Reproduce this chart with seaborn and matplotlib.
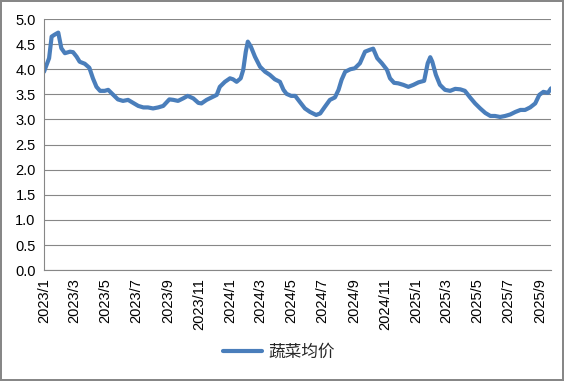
"""Vegetable average price line chart, 2023/1 - 2025/9."""

import matplotlib
matplotlib.use("Agg")
import matplotlib.pyplot as plt
import matplotlib.dates as mdates
from matplotlib.ticker import FuncFormatter, MultipleLocator
import pandas as pd
import seaborn as sns


# data
dates_2023 = [
    "2023-01-01", "2023-01-11", "2023-01-16", "2023-01-22", "2023-01-29",
    "2023-02-04", "2023-02-11", "2023-02-21", "2023-02-27", "2023-03-06",
    "2023-03-12", "2023-03-22", "2023-03-31", "2023-04-07", "2023-04-14",
    "2023-04-21", "2023-04-30", "2023-05-07", "2023-05-17", "2023-05-26",
    "2023-06-05", "2023-06-15", "2023-06-25", "2023-07-05", "2023-07-15",
    "2023-07-24", "2023-08-03", "2023-08-13", "2023-08-23", "2023-09-04",
    "2023-09-12", "2023-09-21", "2023-10-01", "2023-10-10", "2023-10-21",
    "2023-10-31", "2023-11-06", "2023-11-16", "2023-11-26", "2023-12-06",
    "2023-12-12", "2023-12-22",
]
prices_2023 = [
    3.95, 4.22, 4.65, 4.69, 4.73,
    4.42, 4.32, 4.35, 4.34, 4.25,
    4.15, 4.11, 4.03, 3.82, 3.65,
    3.57, 3.57, 3.59, 3.49, 3.40,
    3.37, 3.39, 3.33, 3.27, 3.24,
    3.24, 3.22, 3.24, 3.27, 3.40,
    3.39, 3.37, 3.42, 3.47, 3.42,
    3.33, 3.32, 3.39, 3.44, 3.49,
    3.65, 3.75,
]

dates_2024 = [
    "2024-01-01", "2024-01-07", "2024-01-14", "2024-01-22", "2024-01-27",
    "2024-02-01", "2024-02-05", "2024-02-11", "2024-02-19", "2024-02-29",
    "2024-03-10", "2024-03-19", "2024-03-29", "2024-04-08", "2024-04-15",
    "2024-04-21", "2024-04-30", "2024-05-08", "2024-05-17", "2024-05-27",
    "2024-06-06", "2024-06-18", "2024-06-26", "2024-07-05", "2024-07-15",
    "2024-07-25", "2024-08-01", "2024-08-07", "2024-08-14", "2024-08-24",
    "2024-09-02", "2024-09-12", "2024-09-22", "2024-10-02", "2024-10-08",
    "2024-10-16", "2024-10-25", "2024-11-04", "2024-11-10", "2024-11-18",
    "2024-11-26", "2024-12-06", "2024-12-16", "2024-12-26",
]
prices_2024 = [
    3.82, 3.80, 3.75, 3.82, 3.99,
    4.35, 4.55, 4.45, 4.25, 4.05,
    3.95, 3.89, 3.80, 3.75, 3.59,
    3.51, 3.47, 3.47, 3.35, 3.22,
    3.15, 3.09, 3.12, 3.25, 3.39,
    3.44, 3.59, 3.79, 3.95, 4.00,
    4.02, 4.12, 4.35, 4.39, 4.41,
    4.22, 4.12, 3.99, 3.82, 3.73,
    3.72, 3.69, 3.65, 3.69,
]

dates_2025 = [
    "2025-01-05", "2025-01-16", "2025-01-23", "2025-01-28", "2025-02-01",
    "2025-02-08", "2025-02-16", "2025-02-26", "2025-03-08", "2025-03-18",
    "2025-03-28", "2025-04-06", "2025-04-16", "2025-04-26", "2025-05-06",
    "2025-05-16", "2025-05-26", "2025-06-04", "2025-06-14", "2025-06-24",
    "2025-07-04", "2025-07-14", "2025-07-24", "2025-08-02", "2025-08-12",
    "2025-08-22", "2025-08-30", "2025-09-07", "2025-09-16", "2025-09-22",
]
prices_2025 = [
    3.74, 3.77, 4.12, 4.24, 4.15,
    3.89, 3.69, 3.59, 3.57, 3.61,
    3.60, 3.57, 3.44, 3.32, 3.22,
    3.13, 3.07, 3.07, 3.05, 3.07,
    3.10, 3.15, 3.19, 3.19, 3.24,
    3.32, 3.49, 3.55, 3.53, 3.62,
]

series_name = "蔬菜均价"

df = pd.DataFrame({
    "date": pd.to_datetime(dates_2023 + dates_2024 + dates_2025),
    series_name: prices_2023 + prices_2024 + prices_2025,
})

sns.set_style("white")
plt.rcParams["font.family"] = ["Liberation Sans", "Noto Sans CJK SC", "DejaVu Sans"]

fig = plt.figure(figsize=(5.64, 3.81), dpi=100)
ax = fig.add_axes([0.078, 0.291, 0.899, 0.659])

sns.lineplot(data=df, x="date", y=series_name, ax=ax, color="#4A7EBB",
             linewidth=3.0, label=series_name, legend=False,
             solid_joinstyle="round", solid_capstyle="round")

ax.set_ylim(0, 5)
ax.set_xlim(pd.Timestamp("2023-01-01"), pd.Timestamp("2025-09-22"))
ax.yaxis.set_major_locator(MultipleLocator(0.5))
ax.yaxis.set_major_formatter(FuncFormatter(lambda v, _: f"{v:.1f}"))

ax.xaxis.set_major_locator(mdates.MonthLocator(bymonth=[1, 3, 5, 7, 9, 11]))
ax.xaxis.set_major_formatter(FuncFormatter(
    lambda v, _: f"{mdates.num2date(v).year}/{mdates.num2date(v).month}"))
plt.setp(ax.get_xticklabels(), rotation=90)

ax.grid(axis="y", color="#878787", linewidth=0.8)
ax.set_axisbelow(True)
for side in ["top", "right"]:
    ax.spines[side].set_visible(False)
for side in ["left", "bottom"]:
    ax.spines[side].set_color("#878787")
    ax.spines[side].set_linewidth(0.8)
ax.tick_params(axis="both", direction="out", length=4, width=0.8,
               color="#878787", labelsize=10.5, labelcolor="black", pad=2)
ax.set_xlabel("")
ax.set_ylabel("")

fig.legend(loc="center", bbox_to_anchor=(0.495, 0.076), frameon=False,
           fontsize=12, handlelength=2.3, handletextpad=0.4)

fig.patch.set_edgecolor("#878787")
fig.patch.set_linewidth(1.5)

fig.savefig("out.png", dpi=100, edgecolor=fig.get_edgecolor())
